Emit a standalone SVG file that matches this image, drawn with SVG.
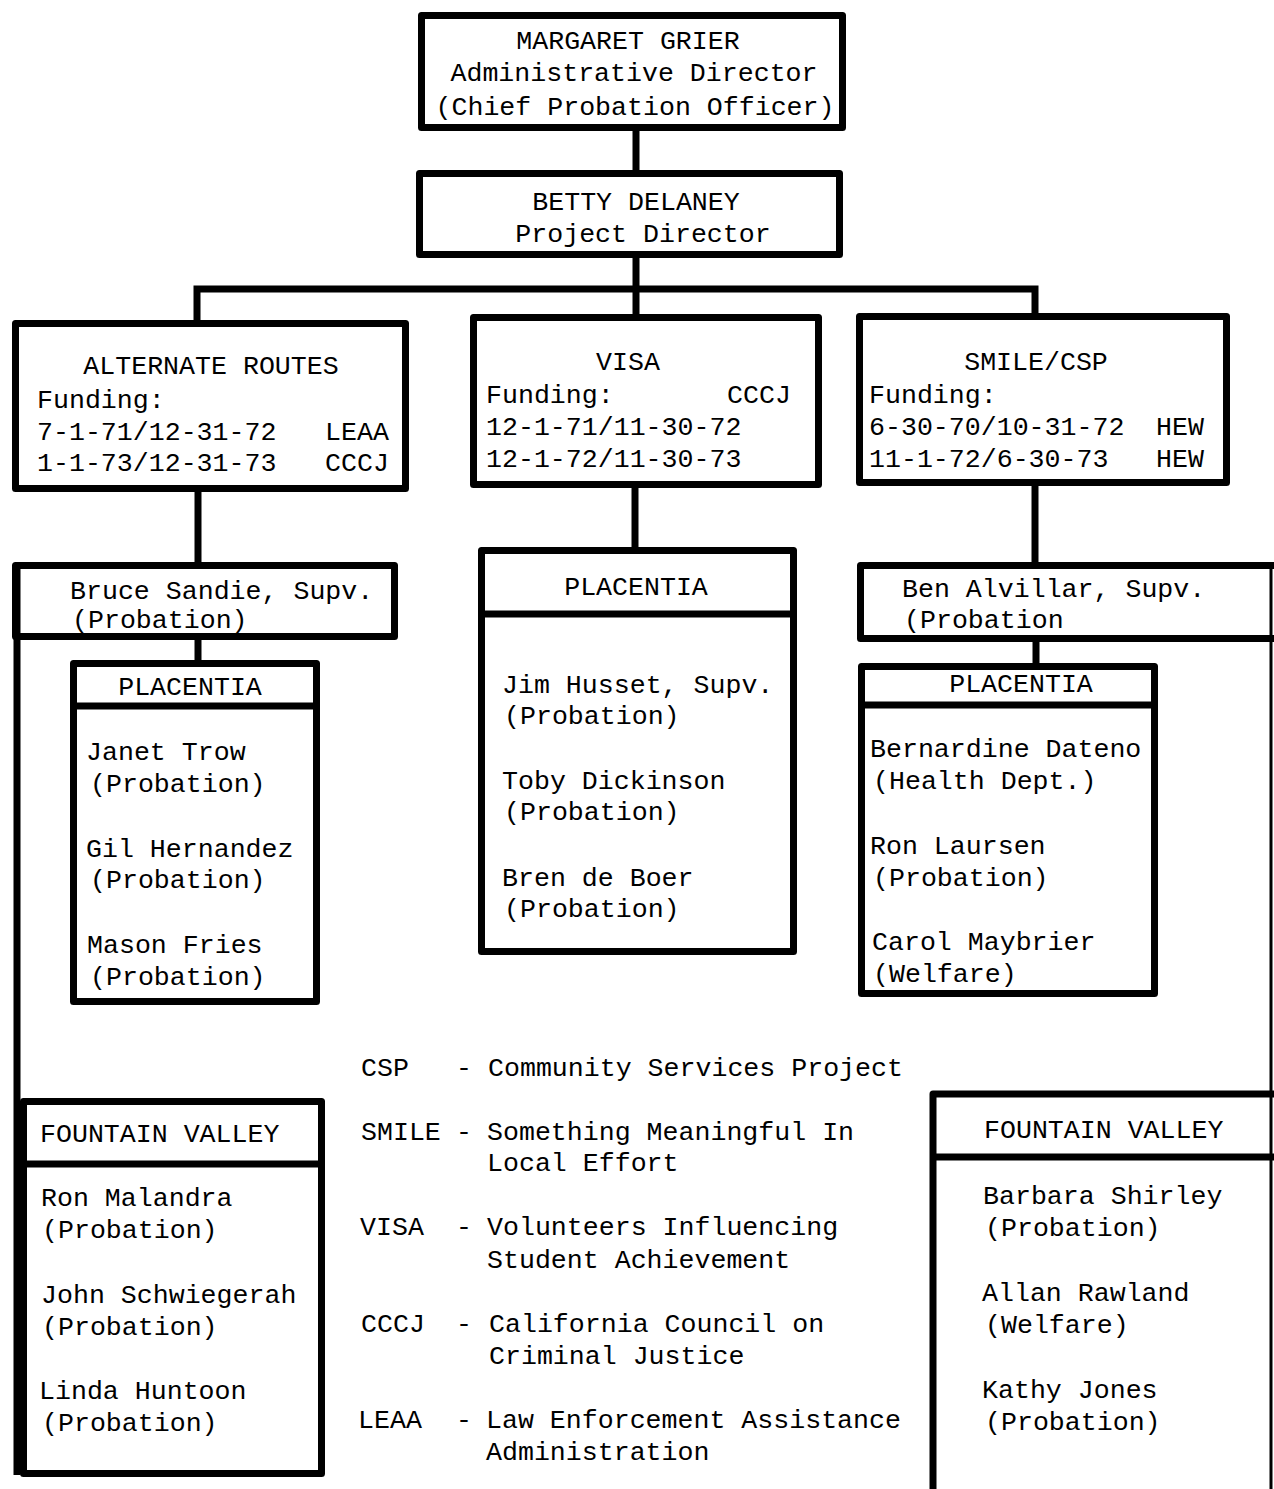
<svg xmlns="http://www.w3.org/2000/svg" width="1274" height="1489" viewBox="0 0 1274 1489">
<style>
.b{fill:none;stroke:#000;stroke-width:7;stroke-linejoin:round}
.l{stroke:#000;stroke-width:7;fill:none}
.thin{stroke:#000;stroke-width:3;fill:none}
text{font-family:"Liberation Mono","Courier New",monospace;font-size:26.6px;fill:#000}
.c{text-anchor:middle}
</style>
<rect width="1274" height="1489" fill="#fff"/>
<g id="connectors">
<line class="l" x1="636" y1="128" x2="636" y2="173"/>
<line class="l" x1="636" y1="254" x2="636" y2="317"/>
<polyline class="l" points="197,322 197,289 1035,289 1035,315"/>
<line class="l" x1="198" y1="489" x2="198" y2="565"/>
<line class="l" x1="635" y1="485" x2="635" y2="550"/>
<line class="l" x1="1035" y1="483" x2="1035" y2="565"/>
<line class="l" x1="198" y1="637" x2="198" y2="663"/>
<line class="l" x1="1036" y1="639" x2="1036" y2="666"/>
<line class="l" x1="17" y1="565" x2="17" y2="1475"/>
<line class="thin" x1="1271" y1="565" x2="1271" y2="1489"/>
</g>
<g id="grier">
<rect class="b" x="421.5" y="15.5" width="421" height="112"/>
<text class="c" x="628" y="49">MARGARET GRIER</text>
<text class="c" x="634" y="81">Administrative Director</text>
<text class="c" x="635" y="115">(Chief Probation Officer)</text>
</g>
<g id="delaney">
<rect class="b" x="419.5" y="173.5" width="420" height="81"/>
<text class="c" x="636" y="210">BETTY DELANEY</text>
<text class="c" x="643" y="242">Project Director</text>
</g>
<g id="alternate-routes">
<rect class="b" x="15.5" y="323.5" width="390" height="165"/>
<text class="c" x="211" y="374">ALTERNATE ROUTES</text>
<text x="37" y="408">Funding:</text>
<text x="37" y="440">7-1-71/12-31-72</text>
<text x="325" y="440">LEAA</text>
<text x="37" y="471">1-1-73/12-31-73</text>
<text x="325" y="471">CCCJ</text>
</g>
<g id="visa">
<rect class="b" x="473.5" y="317.5" width="345" height="167"/>
<text class="c" x="628" y="370">VISA</text>
<text x="486" y="403">Funding:</text>
<text x="727" y="403">CCCJ</text>
<text x="486" y="435">12-1-71/11-30-72</text>
<text x="486" y="467">12-1-72/11-30-73</text>
</g>
<g id="smile-csp">
<rect class="b" x="859.5" y="316.5" width="367" height="166"/>
<text class="c" x="1036" y="370">SMILE/CSP</text>
<text x="869" y="403">Funding:</text>
<text x="869" y="435">6-30-70/10-31-72</text>
<text x="1156" y="435">HEW</text>
<text x="869" y="467">11-1-72/6-30-73</text>
<text x="1156" y="467">HEW</text>
</g>
<g id="sandie">
<rect class="b" x="15.5" y="565.5" width="379" height="71"/>
<text x="70" y="599">Bruce Sandie, Supv.</text>
<text x="72" y="628">(Probation)</text>
</g>
<g id="ar-placentia">
<rect class="b" x="73.5" y="663.5" width="243" height="338"/>
<line class="l" x1="73" y1="706" x2="317" y2="706"/>
<text class="c" x="190" y="695">PLACENTIA</text>
<text x="86" y="760">Janet Trow</text>
<text x="90" y="792">(Probation)</text>
<text x="86" y="857">Gil Hernandez</text>
<text x="90" y="888">(Probation)</text>
<text x="87" y="953">Mason Fries</text>
<text x="90" y="985">(Probation)</text>
</g>
<g id="ar-fountain-valley">
<rect class="b" x="23.5" y="1101.5" width="298" height="372"/>
<line class="l" x1="23" y1="1164" x2="322" y2="1164"/>
<text x="40" y="1142">FOUNTAIN VALLEY</text>
<text x="41" y="1206">Ron Malandra</text>
<text x="42" y="1238">(Probation)</text>
<text x="41" y="1303">John Schwiegerah</text>
<text x="42" y="1335">(Probation)</text>
<text x="39" y="1399">Linda Huntoon</text>
<text x="42" y="1431">(Probation)</text>
</g>
<g id="visa-placentia">
<rect class="b" x="481.5" y="550.5" width="312" height="401"/>
<line class="l" x1="481" y1="614" x2="794" y2="614"/>
<text class="c" x="636" y="595">PLACENTIA</text>
<text x="502" y="693">Jim Husset, Supv.</text>
<text x="504" y="724">(Probation)</text>
<text x="502" y="789">Toby Dickinson</text>
<text x="504" y="820">(Probation)</text>
<text x="502" y="886">Bren de Boer</text>
<text x="504" y="917">(Probation)</text>
</g>
<g id="alvillar">
<polyline class="b" points="1274,565.5 860.5,565.5 860.5,638.5 1274,638.5"/>
<text x="902" y="597">Ben Alvillar, Supv.</text>
<text x="904" y="628">(Probation</text>
</g>
<g id="smile-placentia">
<rect class="b" x="861.5" y="666.5" width="293" height="327"/>
<line class="l" x1="861" y1="705" x2="1155" y2="705"/>
<text class="c" x="1021" y="692">PLACENTIA</text>
<text x="870" y="757">Bernardine Dateno</text>
<text x="873" y="789">(Health Dept.)</text>
<text x="870" y="854">Ron Laursen</text>
<text x="873" y="886">(Probation)</text>
<text x="872" y="950">Carol Maybrier</text>
<text x="873" y="982">(Welfare)</text>
</g>
<g id="smile-fountain-valley">
<polyline class="b" points="933,1489 933,1094 1274,1094"/>
<line class="l" x1="933" y1="1157" x2="1274" y2="1157"/>
<text x="984" y="1138">FOUNTAIN VALLEY</text>
<text x="983" y="1204">Barbara Shirley</text>
<text x="985" y="1236">(Probation)</text>
<text x="982" y="1301">Allan Rawland</text>
<text x="985" y="1333">(Welfare)</text>
<text x="982" y="1398">Kathy Jones</text>
<text x="985" y="1430">(Probation)</text>
</g>
<g id="legend">
<text x="361" y="1076">CSP</text>
<text x="456" y="1076">-</text>
<text x="488" y="1076">Community Services Project</text>
<text x="361" y="1140">SMILE</text>
<text x="456" y="1140">-</text>
<text x="487" y="1140">Something Meaningful In</text>
<text x="487" y="1171">Local Effort</text>
<text x="360" y="1235">VISA</text>
<text x="456" y="1235">-</text>
<text x="487" y="1235">Volunteers Influencing</text>
<text x="487" y="1268">Student Achievement</text>
<text x="361" y="1332">CCCJ</text>
<text x="456" y="1332">-</text>
<text x="489" y="1332">California Council on</text>
<text x="489" y="1364">Criminal Justice</text>
<text x="358" y="1428">LEAA</text>
<text x="456" y="1428">-</text>
<text x="486" y="1428">Law Enforcement Assistance</text>
<text x="486" y="1460">Administration</text>
</g>
</svg>
